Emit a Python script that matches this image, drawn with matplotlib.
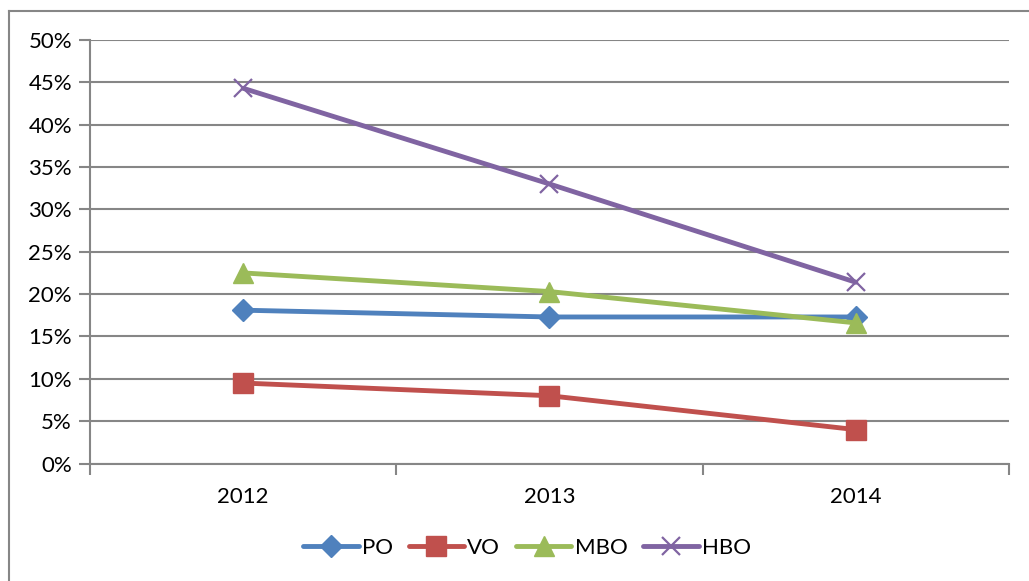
import matplotlib
matplotlib.use("Agg")
import matplotlib.pyplot as plt
from matplotlib.ticker import FuncFormatter, MultipleLocator
from matplotlib.lines import Line2D

years = ["2012", "2013", "2014"]
po = [18.1, 17.3, 17.3]
vo = [9.5, 8.0, 4.0]
mbo = [22.5, 20.3, 16.6]
hbo = [44.3, 33.0, 21.4]

series = [
    ("PO", po, "#4F81BD", "D", 11),
    ("VO", vo, "#C0504D", "s", 14),
    ("MBO", mbo, "#9BBB59", "^", 14),
    ("HBO", hbo, "#8064A2", "x", 13),
]

plt.rcParams["font.family"] = ["Lato", "DejaVu Sans"]

fig = plt.figure(figsize=(10.29, 5.81), dpi=100)
ax = fig.add_axes([90 / 1029, 1 - 463.5 / 581, 919 / 1029, 423.5 / 581])

x = list(range(len(years)))
for name, vals, col, mk, ms in series:
    kw = dict(markeredgewidth=1.6) if mk == "x" else dict(markeredgecolor=col)
    ax.plot(x, vals, color=col, lw=3.5, marker=mk, markersize=ms,
            markerfacecolor=col, label=name, solid_capstyle="round", **kw)

ax.set_xlim(-0.5, 2.5)
ax.set_ylim(0, 50)
ax.yaxis.set_major_locator(MultipleLocator(5))
ax.yaxis.set_major_formatter(FuncFormatter(lambda v, p: f"{v:.0f}%"))
ax.set_xticks(x)
ax.set_xticklabels(years)
ax.set_xticks([-0.5, 0.5, 1.5, 2.5], minor=True)
ax.tick_params(axis="x", which="major", length=0, pad=17, labelsize=16)
ax.tick_params(axis="x", which="minor", length=8, width=1.5, color="#868686")
ax.tick_params(axis="y", length=8, width=1.5, color="#868686", labelsize=16, pad=5)
ax.grid(axis="y", color="#868686", lw=1.5)
ax.set_axisbelow(True)
for s in ["top", "right"]:
    ax.spines[s].set_visible(False)
for s in ["left", "bottom"]:
    ax.spines[s].set_color("#868686")
    ax.spines[s].set_linewidth(1.5)

leg = fig.legend(loc="center", bbox_to_anchor=(527 / 1029, 1 - 548 / 581), ncol=4,
                 frameon=False, fontsize=16, handlelength=2.5, handletextpad=0.15,
                 columnspacing=0.7)

# chart area border
fig.add_artist(Line2D([9 / 1029, 1.0], [1 - 11 / 581, 1 - 11 / 581], color="#868686", lw=1.5))
fig.add_artist(Line2D([9 / 1029, 9 / 1029], [1 - 11 / 581, 0.0], color="#868686", lw=1.5))

fig.savefig("out.png", dpi=100)
